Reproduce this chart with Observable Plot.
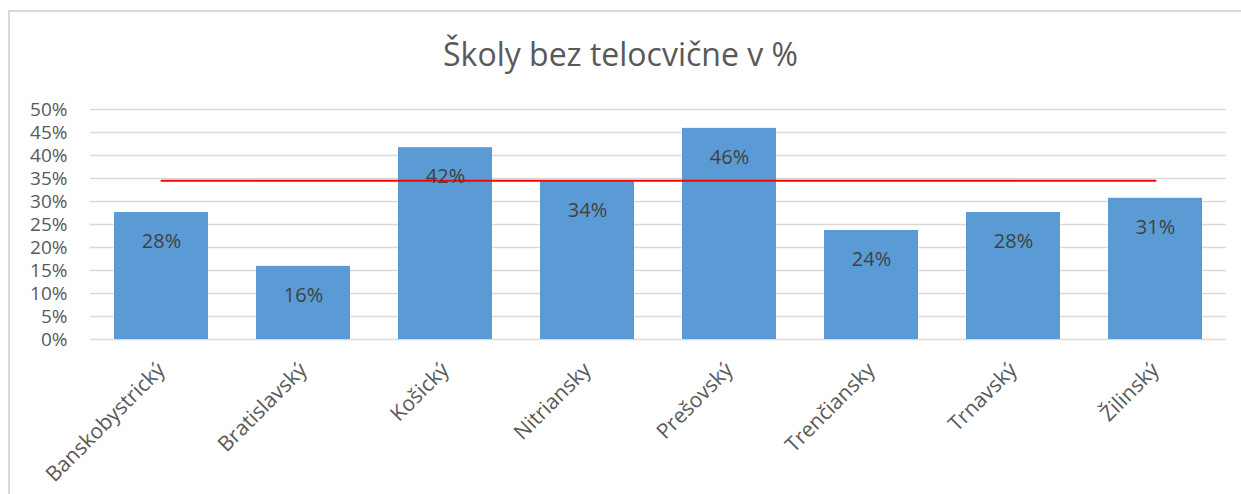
<!DOCTYPE html>
<html>
<head>
<meta charset="utf-8">
<script src="https://cdn.jsdelivr.net/npm/d3@7"></script>
<script src="https://cdn.jsdelivr.net/npm/@observablehq/plot@0.6"></script>
<style>
  html, body { margin: 0; padding: 0; background: #fff; }
  body { width: 1241px; height: 494px; position: relative; overflow: hidden; font-family: "Open Sans", sans-serif; }
  #frame { position: absolute; left: 8px; top: 10px; width: 1240px; height: 490px; border-left: 2px solid #d9d9d9; border-top: 2px solid #d9d9d9; box-sizing: border-box; }
  #title { position: absolute; left: 0; width: 1241px; top: 34px; text-align: center; font-size: 32px; color: #595959; line-height: 40px; }
  #chart { position: absolute; left: 0; top: 90px; }
</style>
</head>
<body>
<div id="frame"></div>
<div id="title">Školy bez telocvične v %</div>
<div id="chart"></div>
<script>
const regions = ["Banskobystrický", "Bratislavský", "Košický", "Nitriansky", "Prešovský", "Trenčiansky", "Trnavský", "Žilinský"];
const shares = [0.276, 0.159, 0.417, 0.343, 0.459, 0.237, 0.276, 0.307];
const average = 0.345;
const yTicks = [0, 0.05, 0.10, 0.15, 0.20, 0.25, 0.30, 0.35, 0.40, 0.45, 0.50];

const data = regions.map((r, i) => ({region: r, value: shares[i]}));
const avgData = regions.map(r => ({region: r, value: average}));
const pct = d3.format(".0%");

const plot = Plot.plot({
  width: 1241,
  height: 404,
  marginTop: 19,
  marginBottom: 155,
  marginLeft: 90,
  marginRight: 15,
  style: {fontFamily: "Open Sans, sans-serif", background: "transparent"},
  x: {domain: regions, paddingInner: 0.34, paddingOuter: 0.17, label: null},
  y: {domain: [0, 0.5], label: null},
  marks: [
    Plot.ruleY(yTicks, {stroke: "#d9d9d9", strokeWidth: 1.5}),
    Plot.barY(data, {x: "region", y: "value", fill: "#5b9bd5"}),
    Plot.line(avgData, {x: "region", y: "value", stroke: "#ff0000", strokeWidth: 2}),
    Plot.text(data, {x: "region", y: "value", text: d => pct(d.value), dy: 29, fill: "#404040", fontSize: 20}),
    Plot.axisY({ticks: yTicks, tickFormat: pct, tickSize: 0, tickPadding: 23, fontSize: 19, fill: "#595959", label: null}),
    Plot.axisX({tickSize: 0, tickRotate: -45, tickPadding: 27, fontSize: 21, fill: "#595959", label: null})
  ]
});
document.getElementById("chart").appendChild(plot);
</script>
</body>
</html>
